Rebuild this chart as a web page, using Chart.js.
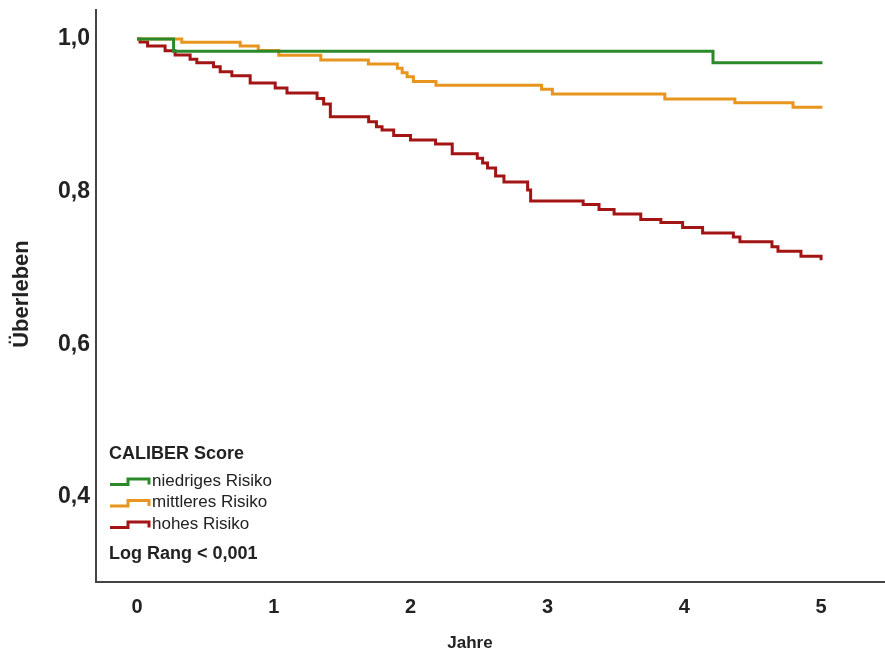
<!DOCTYPE html>
<html>
<head>
<meta charset="utf-8">
<script src="https://cdn.jsdelivr.net/npm/chart.js@4.4.1/dist/chart.umd.min.js"></script>
<style>
  body { margin: 0; background: #fff; }
  #km { display: block; }
</style>
</head>
<body>
<canvas id="km" width="885" height="657"></canvas>
<script>
// Kaplan-Meier steps: time in years, survival after each event
const lowTimes = [0, 0.267, 4.21, 5.01];
const lowSurv = [1.0, 0.984, 0.969, 0.969];

const midTimes = [0, 0.327, 0.754, 0.886, 1.036, 1.343, 1.691, 1.903, 1.938, 1.974, 2.02, 2.185,
  2.957, 3.036, 3.858, 4.37, 4.795, 5.01];
const midSurv = [1.0, 0.9957, 0.9908, 0.985, 0.9787, 0.9725, 0.9673, 0.9616, 0.9559, 0.9506, 0.9443, 0.9394,
  0.9341, 0.928, 0.9214, 0.9166, 0.9105, 0.9105];

const highTimes = [0, 0.022, 0.077, 0.205, 0.278, 0.388, 0.437, 0.559, 0.608, 0.693, 0.827, 1.01,
  1.096, 1.316, 1.364, 1.413, 1.693, 1.75, 1.791, 1.876, 1.999, 2.182, 2.304, 2.487, 2.526, 2.562,
  2.621, 2.682, 2.855, 2.877, 3.261, 3.377, 3.487, 3.682, 3.829, 3.988, 4.134, 4.359, 4.407, 4.641,
  4.685, 4.853, 5.0];
const highSurv = [1.0, 0.9961, 0.9908, 0.9847, 0.979, 0.9734, 0.969, 0.9637, 0.9572, 0.9519, 0.9424, 0.9358,
  0.9293, 0.9221, 0.9149, 0.8982, 0.8917, 0.8851, 0.8808, 0.8736, 0.8677, 0.8625, 0.8498, 0.8437, 0.8376, 0.831,
  0.8206, 0.8127, 0.8022, 0.7878, 0.7832, 0.7767, 0.7708, 0.7636, 0.7597, 0.7531, 0.7459, 0.7407, 0.7345, 0.728,
  0.7219, 0.7154, 0.7101];

const groupNames = ["niedriges Risiko", "mittleres Risiko", "hohes Risiko"];
const xTicks = [0, 1, 2, 3, 4, 5];
const yTicks = [0.4, 0.6, 0.8, 1.0];

const colors = ["#2a8a2a", "#e8951f", "#a31515"];
const FONT = "'Liberation Sans', Arial, sans-serif";

function toPoints(times, surv) {
  return times.map((t, i) => ({ x: t, y: surv[i] }));
}

// Legend block and axis titles, drawn on top of the plot
const annotations = {
  id: "annotations",
  afterDraw(chart) {
    const ctx = chart.ctx;
    ctx.save();
    ctx.fillStyle = "#222";
    ctx.textBaseline = "middle";

    // axis titles
    ctx.textAlign = "center";
    ctx.font = "bold 17px " + FONT;
    ctx.fillText("Jahre", 470, 643);
    ctx.save();
    ctx.translate(22, 294);
    ctx.rotate(-Math.PI / 2);
    ctx.font = "bold 22px " + FONT;
    ctx.fillText("Überleben", 0, 0);
    ctx.restore();

    // legend
    ctx.textAlign = "left";
    ctx.font = "bold 18px " + FONT;
    ctx.fillText("CALIBER Score", 109, 454);

    ctx.font = "17px " + FONT;
    chart.data.datasets.forEach((ds, i) => {
      const cy = 481 + i * 21.5;
      ctx.strokeStyle = ds.borderColor;
      ctx.lineWidth = 3;
      ctx.beginPath();
      ctx.moveTo(110, cy + 3.5);
      ctx.lineTo(128, cy + 3.5);
      ctx.lineTo(128, cy - 2);
      ctx.lineTo(149, cy - 2);
      ctx.lineTo(149, cy + 3.5);
      ctx.stroke();
      ctx.fillText(ds.label, 152, cy);
    });

    ctx.font = "bold 18px " + FONT;
    ctx.fillText("Log Rang < 0,001", 109, 554);
    ctx.restore();
  },
};

function initChart() {
  const series = [
    toPoints(lowTimes, lowSurv),
    toPoints(midTimes, midSurv),
    toPoints(highTimes, highSurv),
  ];

  new Chart(document.getElementById("km"), {
    type: "line",
    data: {
      datasets: series.map((pts, i) => ({
        label: groupNames[i],
        data: pts,
        borderColor: colors[i],
        borderWidth: 3,
        stepped: true,
        pointRadius: 0,
        fill: false,
      })),
    },
    options: {
      responsive: false,
      animation: false,
      layout: { padding: { top: 10, right: 1, left: 0, bottom: 0 } },
      plugins: { legend: { display: false }, tooltip: { enabled: false } },
      scales: {
        x: {
          type: "linear",
          min: -0.3,
          max: 5.46,
          grid: { display: false, drawTicks: false },
          border: { display: true, color: "#444", width: 2 },
          afterBuildTicks: (scale) => {
            scale.ticks = xTicks.map((v) => ({ value: v }));
          },
          afterFit: (scale) => {
            scale.height = 75;
            scale.paddingLeft = 0;
            scale.paddingRight = 0;
          },
          ticks: {
            color: "#222",
            padding: 13,
            maxRotation: 0,
            font: { family: FONT, size: 20, weight: "bold" },
          },
        },
        y: {
          min: 0.2888,
          max: 1.038,
          grid: { display: false, drawTicks: false },
          border: { display: true, color: "#444", width: 2 },
          afterBuildTicks: (scale) => {
            scale.ticks = yTicks.map((v) => ({ value: v }));
          },
          afterFit: (scale) => {
            scale.width = 96;
            scale.paddingTop = 0;
            scale.paddingBottom = 0;
          },
          ticks: {
            color: "#222",
            padding: 6,
            font: { family: FONT, size: 23, weight: "bold" },
            callback: (v) => v.toFixed(1).replace(".", ","),
          },
        },
      },
    },
    plugins: [annotations],
  });
}

window.addEventListener("DOMContentLoaded", initChart);
</script>
</body>
</html>
